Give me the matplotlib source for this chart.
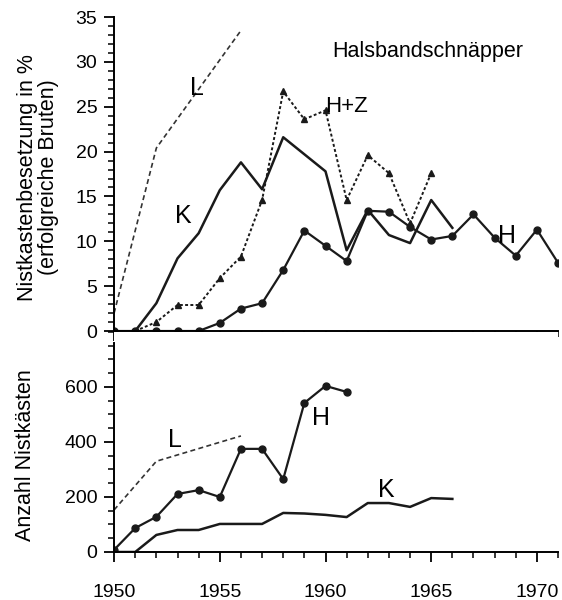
import matplotlib
matplotlib.use("Agg")
from matplotlib import pyplot as plt
from matplotlib.ticker import MultipleLocator

plt.rcParams['font.family'] = ['Liberation Sans', 'DejaVu Sans']

# top panel: Nistkastenbesetzung in %
L_top_years = [1950, 1952, 1956]
L_top = [2.0, 20.4, 33.5]

K_top_years = [1951, 1952, 1953, 1954, 1955, 1956, 1957, 1958, 1960, 1961,
               1962, 1963, 1964, 1965, 1966]
K_top = [0, 3.1, 8.1, 10.9, 15.7, 18.8, 15.8, 21.6, 17.8, 9.0,
         13.5, 10.7, 9.8, 14.6, 11.5]

HZ_years = [1951, 1952, 1953, 1954, 1955, 1956, 1957, 1958, 1959, 1960,
            1961, 1962, 1963, 1964, 1965]
HZ = [0, 1.0, 2.9, 2.9, 5.9, 8.3, 14.6, 26.7, 23.6, 24.6,
      14.6, 19.6, 17.6, 12.0, 17.6]

H_top_years = list(range(1950, 1972))
H_top = [0, 0, 0, 0, 0, 0.9, 2.5, 3.1, 6.8, 11.2, 9.5, 7.8, 13.4, 13.3,
         11.6, 10.2, 10.6, 13.0, 10.4, 8.4, 11.3, 7.6]

# bottom panel: Anzahl Nistkaesten
L_bot_years = [1950, 1952, 1956]
L_bot = [153, 330, 422]

H_bot_years = list(range(1950, 1962))
H_bot = [8, 87, 128, 211, 225, 200, 375, 375, 265, 542, 604, 582]

K_bot_years = list(range(1950, 1967))
K_bot = [0, 0, 62, 80, 80, 102, 102, 102, 142, 140, 135, 127,
         178, 178, 164, 196, 193]

fig = plt.figure(figsize=(5.62, 6.0), dpi=100)
ax1 = fig.add_axes([0.203, 0.4483, 0.790, 0.5233])
ax2 = fig.add_axes([0.203, 0.08, 0.790, 0.3667])

c = "#1a1a1a"
ax1.plot(L_top_years, L_top, color="#333333", lw=1.2, ls=(0, (3, 2)))
ax1.plot(K_top_years, K_top, color=c, lw=1.8)
ax1.plot(HZ_years, HZ, color=c, lw=1.4, ls=(0, (1.5, 1.2)),
         marker="^", ms=4.5)
ax1.plot(H_top_years, H_top, color=c, lw=1.6, marker="o", ms=5)

ax1.set_xlim(1950, 1971)
ax1.set_ylim(0, 35)
ax1.spines['top'].set_visible(False)
ax1.spines['right'].set_visible(False)
ax1.yaxis.set_major_locator(MultipleLocator(5))
ax1.yaxis.set_minor_locator(MultipleLocator(1))
ax1.xaxis.set_major_locator(MultipleLocator(5))
ax1.xaxis.set_minor_locator(MultipleLocator(1))
ax1.tick_params(axis='x', which='both', labelbottom=False, direction='out')
ax1.tick_params(which='major', length=7, width=1.3)
ax1.tick_params(which='minor', length=4, width=1.1)
ax1.tick_params(axis='y', labelsize=14, pad=5)
ax1.set_ylabel("Nistkastenbesetzung in %\n(erfolgreiche Bruten)", fontsize=15.5,
               linespacing=0.95)
ax1.yaxis.set_label_coords(-0.125, 0.49)
for s in ['left', 'bottom']:
    ax1.spines[s].set_linewidth(1.4)
ax1.text(1960.3, 30.6, "Halsbandschnäpper", fontsize=15.5)
ax1.text(1953.6, 26.3, "L", fontsize=18)
ax1.text(1952.9, 12.0, "K", fontsize=18)
ax1.text(1960.0, 24.4, "H+Z", fontsize=16)
ax1.text(1968.15, 9.8, "H", fontsize=18)

ax2.plot(L_bot_years, L_bot, color="#333333", lw=1.2, ls=(0, (3, 2)))
ax2.plot(K_bot_years, K_bot, color=c, lw=1.8)
ax2.plot(H_bot_years, H_bot, color=c, lw=1.6, marker="o", ms=5)

ax2.set_xlim(1950, 1971)
ax2.set_ylim(0, 800)
ax2.spines['top'].set_visible(False)
ax2.spines['right'].set_visible(False)
ax2.spines['left'].set_bounds(0, 760)
for s in ['left', 'bottom']:
    ax2.spines[s].set_linewidth(1.4)
ax2.yaxis.set_major_locator(MultipleLocator(200))
ax2.yaxis.set_minor_locator(MultipleLocator(50))
ax2.xaxis.set_major_locator(MultipleLocator(5))
ax2.xaxis.set_minor_locator(MultipleLocator(1))
ax2.set_yticks([0, 200, 400, 600])
ax2.tick_params(which='major', length=7, width=1.3)
ax2.tick_params(which='minor', length=4, width=1.1)
ax2.tick_params(axis='y', labelsize=14, pad=5)
ax2.tick_params(axis='x', labelsize=14, pad=16)
ax2.set_ylabel("Anzahl Nistkästen", fontsize=15.5)
ax2.yaxis.set_label_coords(-0.175, 0.44)
ax2.text(1952.55, 382, "L", fontsize=18)
ax2.text(1959.35, 462, "H", fontsize=18)
ax2.text(1962.5, 200, "K", fontsize=18)

fig.savefig("out.png", dpi=100)
